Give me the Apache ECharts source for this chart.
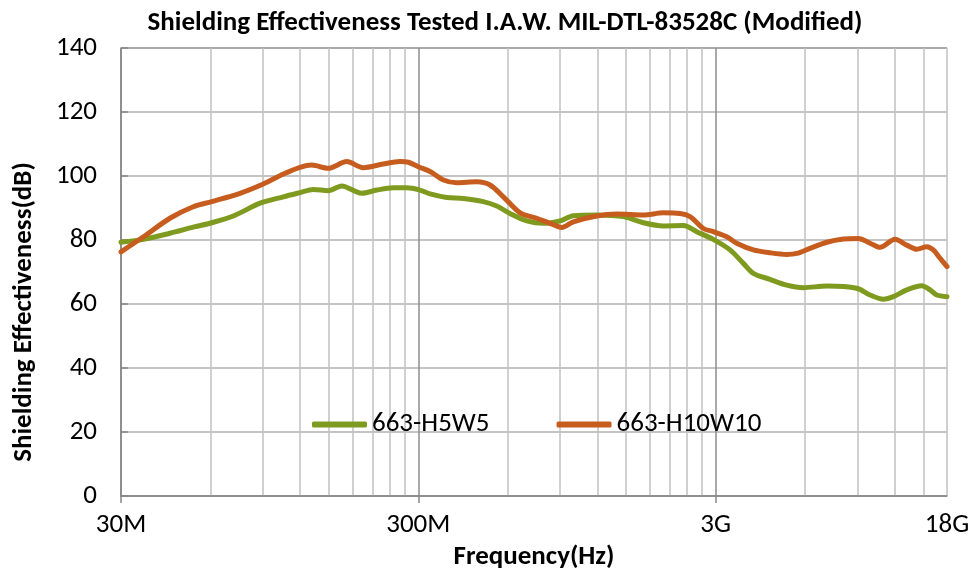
<!DOCTYPE html>
<html>
<head>
<meta charset="utf-8">
<script src="https://cdn.jsdelivr.net/npm/echarts@6/dist/echarts.min.js"></script>
<style>
  html, body { margin: 0; padding: 0; background: #fff; }
  #chart { width: 980px; height: 577px; }
</style>
</head>
<body>
<div id="chart"></div>
<script>
// frequencies in MHz, shielding effectiveness in dB
const h5w5Freq = [30, 35.7, 43.8, 52.5, 60.6, 71.6, 88.1, 105.5, 120, 133, 149.4, 165.7, 193.5, 217.4, 247.2, 274.2, 304,
  328.5, 373.8, 425.2, 496.3, 550.5, 610.3, 694.4, 790.2, 899.5, 996.7, 1194.6, 1467.8, 1713.6, 2001, 2336.6, 2591.7,
  2946, 3354, 3718, 4017, 4572, 5202, 5916, 7094, 8949, 9920, 10997, 11880, 13180, 14800, 15790, 16620, 18000];
const h5w5SE = [79.3, 80.2, 82.1, 84.0, 85.4, 87.5, 91.5, 93.5, 94.8, 95.8, 95.4, 96.9, 94.6, 95.6, 96.3, 96.3, 95.6,
  94.4, 93.3, 93.0, 92.0, 90.6, 88.3, 86.0, 85.2, 86.0, 87.6, 87.8, 87.3, 85.4, 84.4, 84.5, 82.6,
  80.2, 76.9, 72.7, 69.6, 67.7, 65.9, 65.1, 65.6, 64.9, 62.8, 61.5, 62.3, 64.4, 65.7, 64.4, 62.8, 62.3];

const h10w10Freq = [30, 35.7, 43.8, 52.5, 60.6, 75.4, 90.3, 105.5, 120, 131.4, 149.4, 172.3, 195.9, 228.7, 260.3, 277.7, 300,
  328.5, 364.2, 404, 471.6, 522.7, 579.6, 659.5, 750.5, 832, 911, 996.7, 1194.6, 1394.8, 1713.6, 2001, 2277.6, 2460, 2728,
  2946, 3269, 3532, 4017, 4572, 5202, 5622, 6232, 7094, 8066, 9060, 9920, 10720, 12040, 13180, 14240, 15390, 16190, 17060, 18000];
const h10w10SE = [76.3, 81.0, 86.8, 90.4, 92.0, 94.6, 97.5, 100.6, 102.7, 103.4, 102.4, 104.5, 102.6, 103.75, 104.5, 104.3, 102.9,
  101.4, 98.75, 97.9, 98.2, 97.2, 93.5, 88.5, 86.8, 85.2, 83.9, 85.7, 87.5, 88.1, 87.8, 88.5, 88.3, 87.3, 83.6,
  82.6, 81.0, 79.0, 76.9, 76.0, 75.5, 75.8, 77.4, 79.3, 80.3, 80.5, 79.0, 77.7, 80.2, 78.4, 77.1, 77.9, 76.9, 74.3, 71.7];

const xTickValues = [30, 300, 3000, 18000];
const xTickLabels = ['30M', '300M', '3G', '18G'];
const seriesNames = ['663-H5W5', '663-H10W10'];

const FONT = 'Carlito, "Liberation Sans Narrow", "Liberation Sans", sans-serif';

// vertical grid lines: 1..9 x 30M per decade, up to 18G
let gridValues = [];
for (let d = 30; d <= 3000; d *= 10) {
  for (let k = 1; k <= 9; k++) {
    if (d * k <= 18000) gridValues.push(d * k);
  }
}
gridValues.push(18000);
gridValues = gridValues.filter((v, i, a) => a.indexOf(v) === i);

const pair = (xs, ys) => xs.map((x, i) => [x, ys[i]]);

const chart = echarts.init(document.getElementById('chart'));
chart.setOption({
  animation: false,
  title: {
    text: 'Shielding Effectiveness Tested I.A.W. MIL-DTL-83528C (Modified)',
    left: 500, top: 5, textAlign: 'center',
    textStyle: { fontFamily: FONT, fontSize: 27, fontWeight: 'bold', color: '#000' }
  },
  legend: {
    left: 307, top: 406,
    itemWidth: 55, itemHeight: 6, itemGap: 67,
    icon: 'roundRect',
    data: seriesNames,
    textStyle: { fontFamily: FONT, fontSize: 27, color: '#000' }
  },
  grid: { left: 121, right: 33, top: 48, bottom: 81, containLabel: false },
  xAxis: [
    {
      type: 'log', logBase: 10, min: 30, max: 18000,
      axisLine: { show: false },
      axisTick: { show: false, customValues: gridValues },
      axisLabel: { show: false },
      splitLine: {
        show: true,
        lineStyle: { width: 1.5, color: ['#8c8c8c', '#c0c0c0', '#c0c0c0', '#c0c0c0', '#c0c0c0', '#c0c0c0', '#c0c0c0', '#c0c0c0', '#c0c0c0'] }
      }
    },
    {
      type: 'log', logBase: 10, min: 30, max: 18000, position: 'bottom',
      name: 'Frequency(Hz)', nameLocation: 'middle', nameGap: 48,
      nameTextStyle: { fontFamily: FONT, fontSize: 27, fontWeight: 'bold', color: '#000' },
      axisLine: { show: true, lineStyle: { color: '#868686', width: 1.5 } },
      axisTick: { show: true, inside: false, length: 7, customValues: xTickValues.slice(0, 3), lineStyle: { color: '#868686', width: 1.5 } },
      axisLabel: {
        customValues: xTickValues, margin: 16,
        fontFamily: FONT, fontSize: 27, color: '#000',
        formatter: v => xTickLabels[xTickValues.indexOf(v)] || ''
      },
      splitLine: { show: false }
    }
  ],
  yAxis: {
    type: 'value', min: 0, max: 140, interval: 20,
    name: 'Shielding Effectiveness(dB)', nameLocation: 'middle', nameGap: 83, nameRotate: 90,
    nameTextStyle: { fontFamily: FONT, fontSize: 27, fontWeight: 'bold', color: '#000', padding: [0, 80, 0, 0] },
    axisLine: { show: true, lineStyle: { color: '#868686', width: 1.5 } },
    axisTick: { show: true, inside: true, length: 7, lineStyle: { color: '#868686', width: 1.5 } },
    axisLabel: { margin: 24, fontFamily: FONT, fontSize: 27, color: '#000' },
    splitLine: { lineStyle: { width: 1.5, color: ['#8c8c8c', '#b0b0b0', '#b0b0b0', '#b0b0b0', '#b0b0b0', '#b0b0b0', '#b0b0b0', '#8c8c8c'] } }
  },
  series: [
    {
      name: seriesNames[0], type: 'line', xAxisIndex: 0, smooth: 0.3, showSymbol: false,
      lineStyle: { width: 5, color: '#7e9a1f', cap: 'round' },
      itemStyle: { color: '#7e9a1f' },
      data: pair(h5w5Freq, h5w5SE)
    },
    {
      name: seriesNames[1], type: 'line', xAxisIndex: 0, smooth: 0.3, showSymbol: false,
      lineStyle: { width: 5, color: '#c65d1f', cap: 'round' },
      itemStyle: { color: '#c65d1f' },
      data: pair(h10w10Freq, h10w10SE)
    }
  ]
});
</script>
</body>
</html>
